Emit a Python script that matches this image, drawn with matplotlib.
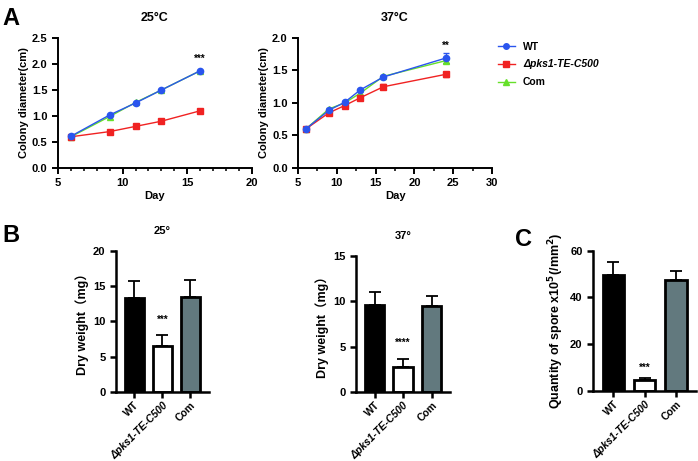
import matplotlib
matplotlib.use('Agg')
import matplotlib.pyplot as plt
from matplotlib.lines import Line2D
from matplotlib.ticker import MultipleLocator

plt.rcParams['font.family'] = ['Liberation Sans', 'Noto Sans CJK SC', 'DejaVu Sans']
plt.rcParams['font.weight'] = 'bold'
plt.rcParams['axes.labelweight'] = 'bold'

# Panel A data
days_25 = [6, 9, 11, 13, 16]
wt_25 = [0.61, 1.02, 1.25, 1.50, 1.87]
mut_25 = [0.60, 0.70, 0.80, 0.90, 1.10]
com_25 = [0.60, 0.99, 1.26, 1.50, 1.87]

days_37 = [6, 9, 11, 13, 16, 24]
wt_37 = [0.60, 0.89, 1.01, 1.20, 1.40, 1.69]
wt_37_err = [0.01, 0.02, 0.02, 0.02, 0.02, 0.08]
mut_37 = [0.60, 0.85, 0.96, 1.08, 1.25, 1.44]
mut_37_err = [0.01, 0.02, 0.03, 0.04, 0.04, 0.04]
com_37 = [0.60, 0.91, 1.00, 1.15, 1.41, 1.65]
com_37_err = [0.01, 0.02, 0.02, 0.02, 0.02, 0.04]

# Panel B/C data
strains = ['WT', 'Δpks1-TE-C500', 'Com']
dry_25 = [13.3, 6.5, 13.5]
dry_25_err = [2.4, 1.6, 2.4]
dry_37 = [9.6, 2.8, 9.5]
dry_37_err = [1.4, 0.8, 1.1]
spore = [49.5, 4.5, 47.5]
spore_err = [5.5, 1.0, 4.0]

blue = '#2a55ee'
red = '#f02222'
green = '#66e02a'
bar_colors = ['black', 'white', '#62797e']

fig = plt.figure(figsize=(6.98, 4.61), dpi=100)


def style_axes(ax, lw=1.4):
    for s in ['top', 'right']:
        ax.spines[s].set_visible(False)
    for s in ['left', 'bottom']:
        ax.spines[s].set_linewidth(lw)
    ax.tick_params(which='major', width=lw, length=4, labelsize=8)
    ax.tick_params(which='minor', width=lw * 0.8, length=2.5)


# --- A: 25 C
ax1 = fig.add_axes([0.083, 0.6356, 0.278, 0.282])
ax1.plot(days_25, com_25, '^-', color=green, ms=4, lw=1)
ax1.plot(days_25, mut_25, 's-', color=red, ms=4.5, lw=1)
ax1.plot(days_25, wt_25, 'o-', color=blue, ms=4.5, lw=1)
ax1.set_xlim(5, 20)
ax1.set_ylim(0, 2.5)
ax1.xaxis.set_major_locator(MultipleLocator(5))
ax1.xaxis.set_minor_locator(MultipleLocator(1))
ax1.yaxis.set_major_locator(MultipleLocator(0.5))
ax1.set_xlabel('Day', fontsize=8, labelpad=2)
ax1.set_ylabel('Colony diameter(cm)', fontsize=8, labelpad=2)
ax1.set_title('25°C', fontsize=9, fontweight='bold', pad=12)
ax1.text(16, 2.04, '***', ha='center', fontsize=7)
style_axes(ax1)

# --- A: 37 C
ax2 = fig.add_axes([0.427, 0.6356, 0.278, 0.282])
ax2.errorbar(days_37, com_37, yerr=com_37_err, fmt='^-', color=green, ms=4,
             lw=1, capsize=2)
ax2.errorbar(days_37, mut_37, yerr=mut_37_err, fmt='s-', color=red, ms=4.5,
             lw=1, capsize=2)
ax2.errorbar(days_37, wt_37, yerr=wt_37_err, fmt='o-', color=blue, ms=4.5,
             lw=1, capsize=2)
ax2.set_xlim(5, 30)
ax2.set_ylim(0, 2.0)
ax2.xaxis.set_major_locator(MultipleLocator(5))
ax2.xaxis.set_minor_locator(MultipleLocator(2.5))
ax2.yaxis.set_major_locator(MultipleLocator(0.5))
ax2.set_xlabel('Day', fontsize=8, labelpad=2)
ax2.set_ylabel('Colony diameter(cm)', fontsize=8, labelpad=2)
ax2.set_title('37°C', fontsize=9, fontweight='bold', pad=12)
ax2.text(24, 1.83, '**', ha='center', fontsize=7)
style_axes(ax2)

handles = [Line2D([], [], color=blue, marker='o', ms=4, lw=1),
           Line2D([], [], color=red, marker='s', ms=4, lw=1),
           Line2D([], [], color=green, marker='^', ms=4, lw=1)]
leg = fig.legend(handles, strains, loc='upper left',
                 bbox_to_anchor=(0.7, 0.93), frameon=False,
                 fontsize=7.5, handlelength=1.6, labelspacing=0.75)
leg.get_texts()[1].set_fontstyle('italic')


def bar_panel(rect, vals, errs, ymax, step, title, ylabel, star, star_y):
    ax = fig.add_axes(rect)
    x = range(len(strains))
    ax.bar(x, vals, width=0.68, color=bar_colors, edgecolor='black', linewidth=2,
           zorder=2)
    ax.errorbar(x, vals, yerr=[[0] * len(errs), errs], fmt='none', ecolor='black',
                elinewidth=1.3, capsize=4, capthick=1.3, zorder=1)
    ax.set_xlim(-0.65, 2.65)
    ax.set_ylim(0, ymax)
    ax.yaxis.set_major_locator(MultipleLocator(step))
    ax.set_xticks(list(x))
    ax.set_xticklabels(strains, rotation=45, ha='right', rotation_mode='anchor')
    ax.get_xticklabels()[1].set_fontstyle('italic')
    ax.set_ylabel(ylabel, fontsize=9, labelpad=3)
    if title:
        ax.set_title(title, fontsize=8, fontweight='bold', pad=12)
    ax.text(1, star_y, star, ha='center', fontsize=7)
    style_axes(ax, lw=1.8)
    ax.tick_params(axis='x', labelsize=7.5, pad=2)
    return ax


bar_panel([0.166, 0.1497, 0.133, 0.306], dry_25, dry_25_err, 20, 5, '25°',
          'Dry weight（mg）', '***', 9.8)
bar_panel([0.510, 0.1497, 0.135, 0.295], dry_37, dry_37_err, 15, 5, '37°',
          'Dry weight（mg）', '****', 5.1)
bar_panel([0.8496, 0.152, 0.148, 0.304], spore, spore_err, 60, 20, None,
          'Quantity of spore x10$^\\mathbf{5}$(/mm$^\\mathbf{2}$)', '***', 8.5)

fig.text(0.003, 0.985, 'A', fontsize=17, fontweight='bold', va='top')
fig.text(0.003, 0.515, 'B', fontsize=17, fontweight='bold', va='top')
fig.text(0.738, 0.505, 'C', fontsize=17, fontweight='bold', va='top')

fig.savefig('out.png', dpi=100)
